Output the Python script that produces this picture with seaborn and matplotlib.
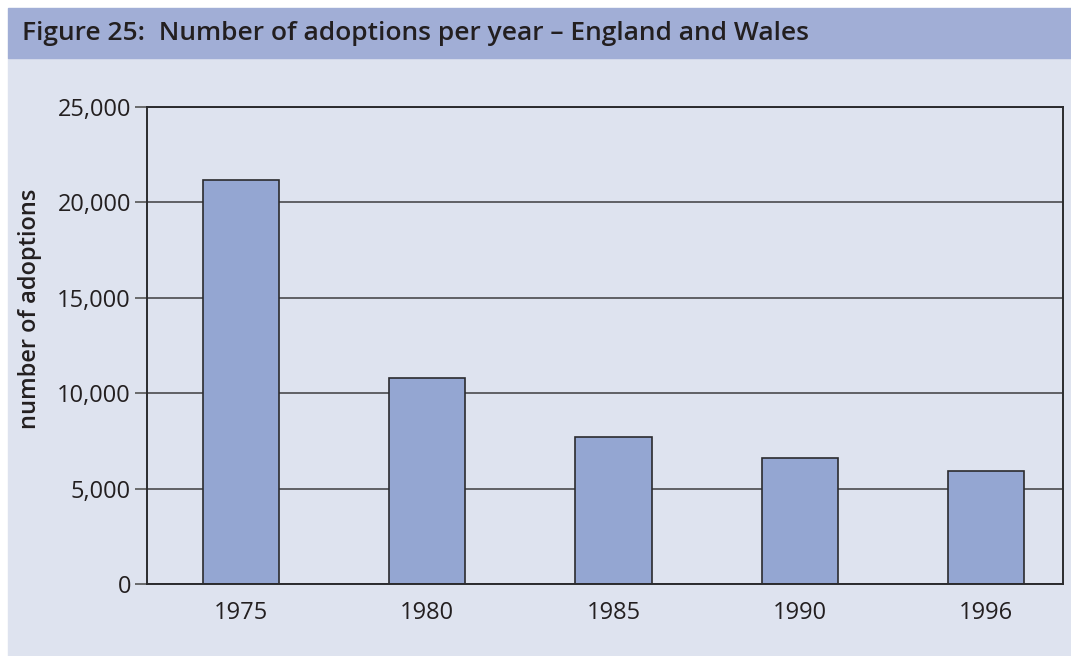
import matplotlib
matplotlib.use("Agg")
import matplotlib.pyplot as plt
import seaborn as sns
import pandas as pd
from matplotlib.patches import Rectangle
from matplotlib.ticker import FuncFormatter

years = ["1975", "1980", "1985", "1990", "1996"]
adoptions = [21200, 10800, 7700, 6600, 5900]
yticks = [0, 5000, 10000, 15000, 20000, 25000]

df = pd.DataFrame({"year": years, "adoptions": adoptions})

sns.set_theme(style="white")
plt.rcParams["font.family"] = ["Open Sans", "DejaVu Sans"]

bg = "#dee3ef"
band = "#a1aed6"
bar_col = "#94a6d2"
dark = "#2b2b2e"
txt = "#231f20"

fig = plt.figure(figsize=(10.71, 6.56), dpi=100)
fig.patch.set_facecolor("white")

# page background and title band
fig.patches.append(Rectangle((8 / 1071, 0), 1 - 8 / 1071, 1 - 58 / 656,
                             transform=fig.transFigure, color=bg, zorder=-5))
fig.patches.append(Rectangle((8 / 1071, 1 - 58 / 656), 1 - 8 / 1071, 50 / 656,
                             transform=fig.transFigure, color=band, zorder=-5))
fig.text(22 / 1071, 1 - 33 / 656, "Figure 25:  Number of adoptions per year – England and Wales",
         fontsize=19, fontweight="semibold", color=txt, va="center", ha="left")

ax = fig.add_axes([147 / 1071, 1 - 584 / 656, (1063 - 147) / 1071, (584 - 107) / 656])
ax.set_facecolor(bg)
ax.set_axisbelow(True)

sns.barplot(data=df, x="year", y="adoptions", ax=ax, color=bar_col,
            saturation=1, width=0.41, edgecolor=dark, linewidth=1.2, zorder=2)

ax.set_ylim(0, 25000)
ax.set_xlim(-0.505, 4.413)
ax.set_yticks(yticks)
ax.yaxis.set_major_formatter(FuncFormatter(lambda v, p: f"{int(v):,}"))
ax.yaxis.grid(True, color="#4a4a4e", linewidth=1.2)
ax.xaxis.grid(False)

for s in ax.spines.values():
    s.set_visible(True)
    s.set_color(dark)
    s.set_linewidth(1.4)

ax.tick_params(axis="y", which="major", left=True, length=8.5, width=1.2,
               color="#555555", labelsize=17, labelcolor=txt, pad=3)
ax.tick_params(axis="x", bottom=False, labelsize=17, labelcolor=txt, pad=6)

ax.set_xlabel("")
ax.set_ylabel("")
fig.text(30 / 1071, 1 - 309 / 656, "number of adoptions", rotation=90,
         fontsize=17, fontweight="semibold", color=txt, ha="center", va="center")

fig.savefig("out.png", dpi=100, facecolor=fig.get_facecolor())
